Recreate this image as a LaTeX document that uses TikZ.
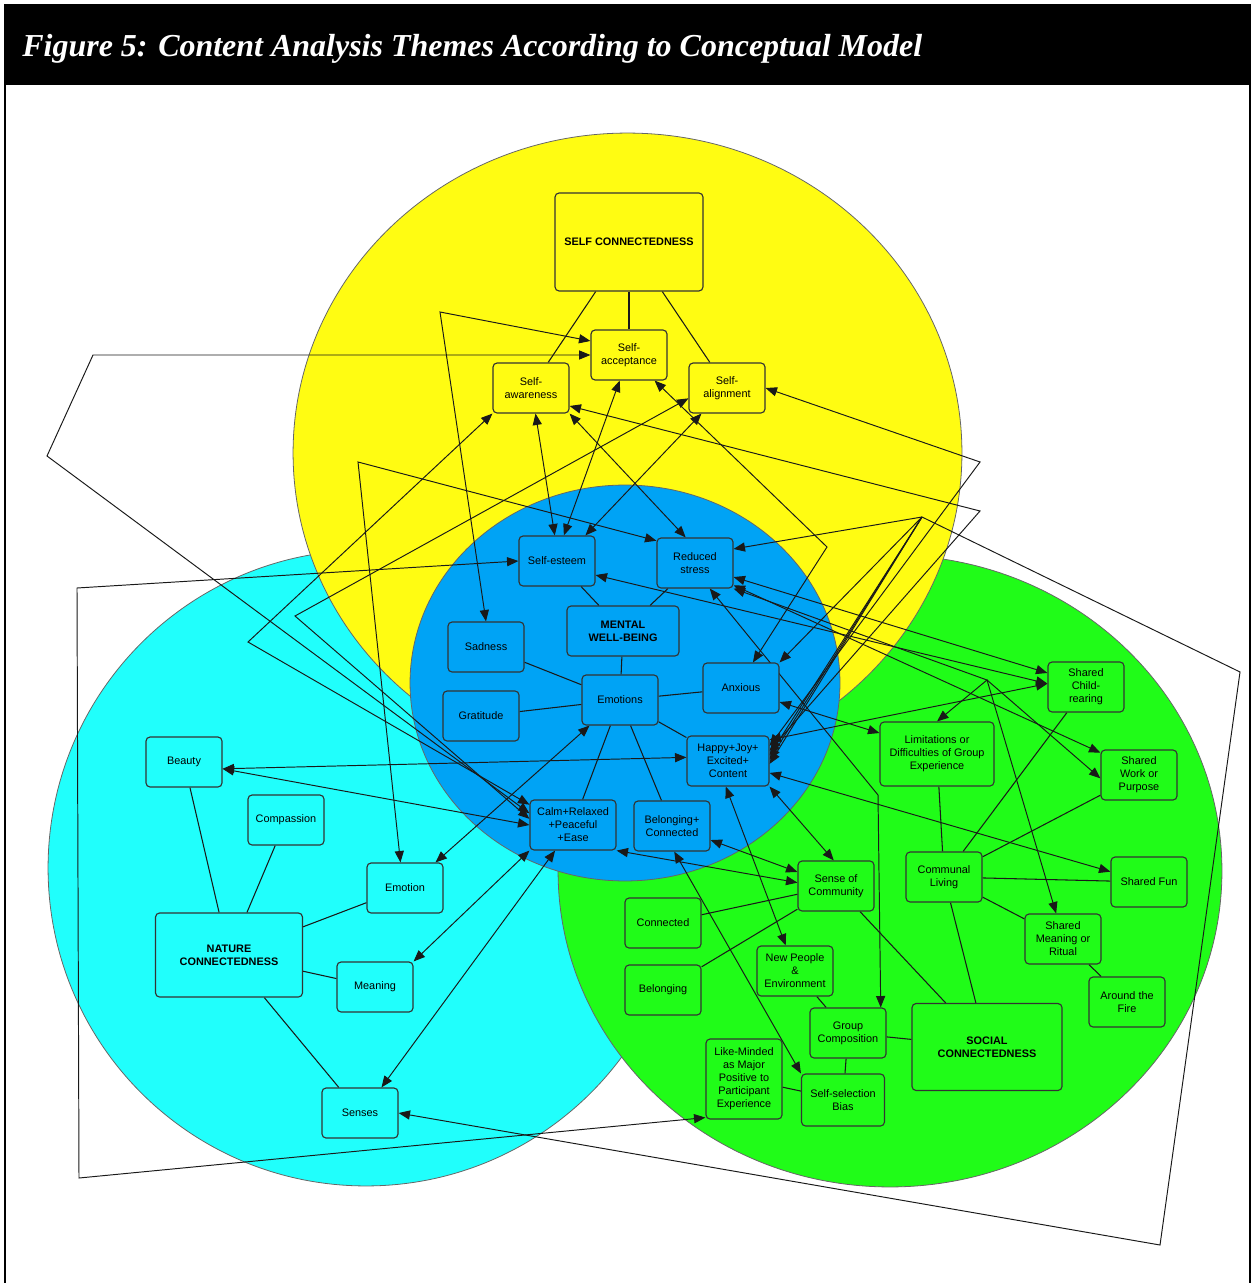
\documentclass[tikz,border=0pt]{standalone}
\usepackage{fontspec}
\setmainfont{Liberation Serif}
\setsansfont{Liberation Sans}
\usetikzlibrary{arrows.meta}
\definecolor{yelC}{RGB}{255,252,18}
\definecolor{cyaC}{RGB}{32,255,252}
\definecolor{grnC}{RGB}{32,252,24}
\definecolor{bluC}{RGB}{0,163,245}
\pgfdeclarelayer{bg}
\pgfdeclarelayer{edges}
\pgfsetlayers{bg,edges,main}
\tikzset{
  bx/.style={draw=black!80, line width=0.65pt, rounded corners=2.3pt, align=center,
    font=\sffamily\fontsize{6.2}{7.4}\selectfont, inner sep=1pt,
    minimum width=1.52cm, minimum height=1cm},
  hb/.style={font=\sffamily\bfseries\fontsize{6.2}{7.4}\selectfont},
  yb/.style={bx, fill=yelC},
  bb/.style={bx, fill=bluC},
  cb/.style={bx, fill=cyaC},
  gb/.style={bx, fill=grnC},
  region/.style={draw=black!60, line width=0.45pt},
  ln/.style={draw=black!90, line width=0.6pt},
  ar/.style={draw=black!90, line width=0.55pt, {Triangle[length=6.5pt,width=5.2pt]}-{Triangle[length=6.5pt,width=5.2pt]}},
  ae/.style={draw=black!90, line width=0.55pt, -{Triangle[length=6.5pt,width=5.2pt]}}
}
\begin{document}
\begin{tikzpicture}[x=0.02cm,y=-0.02cm]
\useasboundingbox (0,0) rectangle (1254,1283);

% frame and title
\fill[black] (5,5) rectangle (1250,85);
\draw[line width=0.9pt] (5,1295) -- (5,5) -- (1250,5) -- (1250,1295);
\node[anchor=base west, text=white, inner sep=0, font=\fontsize{18.2}{20}\selectfont\bfseries\itshape] (title) at (22,57) {Figure 5: Content Analysis Themes According to Conceptual Model};

% regions
\begin{pgfonlayer}{bg}
\path[region, fill=cyaC] (366,868) circle [radius=6.36cm];
\path[region, fill=grnC] (890,871) ellipse [x radius=6.64cm, y radius=6.32cm];
\path[region, fill=yelC] (627.5,453) ellipse [x radius=6.69cm, y radius=6.4cm];
\path[region, fill=bluC] (625,683) ellipse [x radius=4.3cm, y radius=3.96cm];
\end{pgfonlayer}

% self connectedness
\node[yb, hb, minimum width=2.96cm, minimum height=1.96cm] (scn) at (629,242) {SELF CONNECTEDNESS};
\node[yb] (sacc) at (629,355) {Self-\\acceptance};
\node[yb] (saw) at (531,388) {Self-\\awareness};
\node[yb] (sal) at (727,388) {Self-\\alignment};

% mental well-being
\node[bb] (ses) at (557,561) {Self-esteem};
\node[bb] (rst) at (695,563) {Reduced\\stress};
\node[bb, hb, minimum width=2.24cm] (mwb) at (623,631) {MENTAL\\WELL-BEING};
\node[bb] (sad) at (486,647) {Sadness};
\node[bb] (gra) at (481,716) {Gratitude};
\node[bb] (emo) at (620,700) {Emotions};
\node[bb] (anx) at (741,688) {Anxious};
\node[bb, minimum width=1.64cm] (hap) at (728,761) {Happy+Joy+\\Excited+\\Content};
\node[bb, minimum width=1.72cm] (calm) at (573,825) {Calm+Relaxed\\+Peaceful\\+Ease};
\node[bb] (bel) at (672,826) {Belonging+\\Connected};

% nature connectedness
\node[cb] (bea) at (184,762) {Beauty};
\node[cb] (com) at (286,820) {Compassion};
\node[cb] (emn) at (405,888) {Emotion};
\node[cb, hb, minimum width=2.94cm, minimum height=1.68cm] (ncn) at (229,955) {NATURE\\CONNECTEDNESS};
\node[cb] (mea) at (375,987) {Meaning};
\node[cb] (sen) at (360,1113) {Senses};

% social connectedness
\node[gb] (soc) at (836,886) {Sense of\\Community};
\node[gb] (cli) at (944,877) {Communal\\Living};
\node[gb] (sfun) at (1149,882) {Shared Fun};
\node[gb] (con) at (663,923) {Connected};
\node[gb] (blg) at (663,990) {Belonging};
\node[gb] (newp) at (795,971) {New People\\\&\\Environment};
\node[gb] (smr) at (1063,939) {Shared\\Meaning or\\Ritual};
\node[gb] (atf) at (1127,1002) {Around the\\Fire};
\node[gb] (gcp) at (848,1033) {Group\\Composition};
\node[gb, hb, minimum width=3cm, minimum height=1.74cm] (scc) at (987,1047) {SOCIAL\\CONNECTEDNESS};
\node[gb, minimum height=1.6cm] (lmd) at (744,1079) {Like-Minded\\as Major\\Positive to\\Participant\\Experience};
\node[gb, minimum width=1.66cm, minimum height=1.04cm] (ssb) at (843,1100) {Self-selection\\Bias};
\node[gb, minimum width=2.28cm, minimum height=1.28cm] (lim) at (937,754) {Limitations or\\Difficulties of Group\\Experience};
\node[gb] (scr) at (1086,687) {Shared\\Child-\\rearing};
\node[gb] (swp) at (1139,775) {Shared\\Work or\\Purpose};

% waypoints
\coordinate (A1) at (93,355);
\coordinate (A2) at (47,456);
\coordinate (B) at (440,312);
\coordinate (C) at (358,462);
\coordinate (D) at (248,642);
\coordinate (E) at (295,616);
\coordinate (F) at (827,547);
\coordinate (G) at (922,517);
\coordinate (H1) at (980,462);
\coordinate (H2) at (980,511);
\coordinate (J) at (987,680);
\coordinate (K) at (878,795);
\coordinate (L1) at (77,588);
\coordinate (L2) at (79,1178);
\coordinate (S1) at (1240,672);
\coordinate (S2) at (1160,1245);

\begin{pgfonlayer}{edges}
% hierarchy lines
\draw[ln] (scn) -- (saw);
\draw[ln] (scn) -- (sacc);
\draw[ln] (scn) -- (sal);
\draw[ln] (ses) -- (mwb);
\draw[ln] (rst) -- (mwb);
\draw[ln] (mwb) -- (emo);
\draw[ln] (sad) -- (emo);
\draw[ln] (gra) -- (emo);
\draw[ln] (anx) -- (emo);
\draw[ln] (emo) -- (hap);
\draw[ln] (emo) -- (calm);
\draw[ln] (emo) -- (bel);
\draw[ln] (bea) -- (ncn);
\draw[ln] (com) -- (ncn);
\draw[ln] (emn) -- (ncn);
\draw[ln] (mea) -- (ncn);
\draw[ln] (ncn) -- (sen);
\draw[ln] (scc) -- (soc);
\draw[ln] (scc) -- (cli);
\draw[ln] (scc) -- (gcp);
\draw[ln] (gcp) -- (newp);
\draw[ln] (gcp) -- (ssb);
\draw[ln] (ssb) -- (lmd);
\draw[ln] (soc) -- (con);
\draw[ln] (soc) -- (blg);
\draw[ln] (cli) -- (sfun);
\draw[ln] (cli) -- (smr);
\draw[ln] (smr) -- (atf);
\draw[ln] (cli) -- (lim);
\draw[ln] (cli) -- (scr);
\draw[ln] (cli) -- (swp);

% cross-theme connectors
\draw[ar] (sacc.160) -- (B) -- (sad.north);
\draw[ar] (sacc.west) -- (A1) -- (A2) -- (calm.165);
\draw[ar] (emn.100) -- (C) -- (rst.150);
\draw[ar] (saw.south west) -- (D) -- (calm.155);
\draw[ar] (sal.195) -- (E) -- (calm.172);
\draw[ar] (saw.280) -- (ses.95);
\draw[ar] (sacc.250) -- (ses.75);
\draw[ar] (sal.225) -- (ses.42);
\draw[ar] (saw.south east) -- (rst.110);
\draw[ar] (sacc.315) -- (F) -- (anx.65);
\draw[ar] (sal.east) -- (H1) -- (hap.20);
\draw[ar] (saw.335) -- (H2) -- (hap.14);
\draw[ar] (sen.east) -- (S2) -- (S1) -- (G) -- (rst.20);
\draw[ae] (G) -- (anx.north east);
\draw[ae] (G) -- (hap.8);
\draw[ae] (G) -- (hap.2);
\draw[ae] (G) -- (hap.356);
\draw[ar] (ses.west) -- (L1) -- (L2) -- (lmd.225);
\draw[ar] (ses.340) -- (scr.175);
\draw[ar] (rst.340) -- (scr.160);
\draw[ar] (rst.330) -- (swp.150);
\draw[ar] (rst.south east) -- (J) -- (lim.north);
\draw[ae] (J) -- (smr.105);
\draw[ae] (J) -- (swp.185);
\draw[ar] (rst.300) -- (K) -- (gcp.38);
\draw[ar] (anx.340) -- (lim.160);
\draw[ar] (bea.350) -- (hap.175);
\draw[ar] (bea.350) -- (calm.west);
\draw[ar] (hap.27) -- (scr.175);
\draw[ar] (hap.344) -- (sfun.165);
\draw[ar] (hap.265) -- (newp.110);
\draw[ar] (hap.south east) -- (soc.95);
\draw[ar] (mea.north east) -- (calm.south west);
\draw[ar] (sen.50) -- (calm.235);
\draw[ar] (emn.40) -- (emo.220);
\draw[ar] (calm.south east) -- (soc.175);
\draw[ar] (bel.340) -- (soc.160);
\draw[ar] (bel.275) -- (ssb.north west);
\end{pgfonlayer}
\end{tikzpicture}
\end{document}
